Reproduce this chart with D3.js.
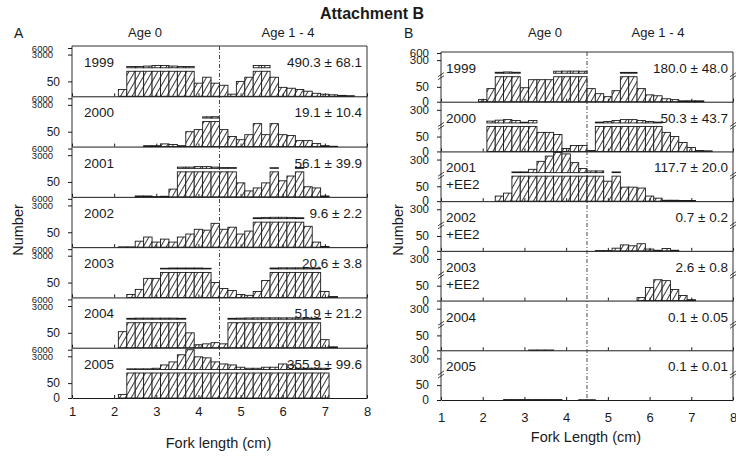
<!DOCTYPE html>
<html>
<head>
<meta charset="utf-8">
<script src="https://cdn.jsdelivr.net/npm/d3@7"></script>
<style>
  body { margin: 0; background: #fff; }
  svg { font-family: "Liberation Sans", Arial, sans-serif; }
</style>
</head>
<body>
<div id="chart"></div>
<script>
// histogram bins: left edges 1.9, 2.1, ... (0.2 cm wide)
const binStart = 1.9, binWidth = 0.2;
const xTicks = [1, 2, 3, 4, 5, 6, 7, 8];

// Panel A counts per bin
const a1999 = [0, 23, 180, 190, 230, 290, 290, 230, 190, 180, 44, 64, 44, 37, 7, 50, 64, 290, 290, 64, 30, 27, 23, 17, 10, 7, 5, 3, 2, 0];
const a2000 = [0, 0, 0, 0, 3, 3, 9, 7, 3, 50, 57, 180, 190, 57, 34, 23, 40, 77, 40, 77, 40, 37, 20, 20, 10, 3, 1, 0, 0, 0];
const a2001 = [0, 0, 0, 3, 3, 1, 2, 26, 180, 180, 230, 230, 180, 140, 140, 47, 20, 30, 47, 130, 54, 70, 150, 34, 30, 3, 0, 0, 0, 0];
const a2002 = [0, 1, 1, 20, 34, 17, 27, 17, 34, 44, 60, 57, 80, 60, 67, 44, 54, 150, 180, 190, 190, 180, 150, 70, 17, 2, 0, 0, 0, 0];
const a2003 = [0, 0, 10, 27, 64, 64, 130, 150, 150, 150, 150, 130, 50, 30, 23, 10, 7, 20, 57, 150, 165, 165, 165, 165, 150, 20, 3, 0, 0, 0];
const a2004 = [0, 54, 150, 165, 165, 165, 165, 165, 150, 50, 10, 13, 17, 13, 150, 165, 180, 190, 190, 190, 190, 190, 180, 165, 150, 27, 3, 0, 0, 0];
const a2005 = [0, 12, 130, 130, 130, 180, 620, 1250, 3600, 6000, 2800, 2440, 1250, 800, 620, 290, 180, 180, 290, 290, 800, 620, 180, 180, 180, 180, 0, 0, 0, 0];

// Panel B counts per bin
const b1999 = [7, 44, 92, 95, 92, 47, 74, 74, 74, 102, 103, 103, 102, 44, 27, 17, 37, 91, 91, 44, 23, 20, 10, 7, 3, 3, 3, 0, 0, 0];
const b2000 = [0, 100, 110, 116, 106, 90, 106, 64, 64, 57, 10, 20, 20, 3, 91, 96, 106, 116, 116, 106, 96, 91, 64, 50, 30, 13, 3, 2, 0, 0];
const b2001 = [0, 0, 17, 27, 90, 90, 116, 252, 420, 600, 520, 222, 125, 99, 99, 67, 90, 47, 47, 44, 17, 10, 3, 3, 2, 2, 0, 0, 0, 0];
const b2002 = [0, 0, 0, 0, 0, 0, 0, 0, 0, 0, 0, 0, 0, 0, 1, 1, 9, 20, 17, 24, 6, 2, 8, 2, 0, 0, 0, 0, 0, 0];
const b2003 = [0, 0, 0, 0, 0, 0, 0, 0, 0, 0, 0, 0, 0, 0, 0, 0, 0, 0, 0, 10, 44, 70, 67, 37, 17, 3, 0, 0, 0, 0];
const b2004 = [0, 0, 0, 0, 0, 0, 1, 1, 1, 0, 0, 0, 0, 0, 0, 0, 0, 0, 0, 0, 0, 0, 0, 0, 0, 0, 0, 0, 0, 0];
const b2005 = [0, 0, 0, 1.5, 1.5, 1.5, 1.5, 1.5, 1.5, 1.5, 0, 0, 1, 1, 0, 0, 0, 0, 0, 0, 0, 0, 0, 0, 0, 0, 0, 0, 0, 0];

// row labels
const aYears = [["1999"], ["2000"], ["2001"], ["2002"], ["2003"], ["2004"], ["2005"]];
const aMeans = ["490.3 \u00b1 68.1", "19.1 \u00b1 10.4", "56.1 \u00b1 39.9", "9.6 \u00b1 2.2", "20.6 \u00b1 3.8", "51.9 \u00b1 21.2", "355.9 \u00b1 99.6"];
const bYears = [["1999"], ["2000"], ["2001", "+EE2"], ["2002", "+EE2"], ["2003", "+EE2"], ["2004"], ["2005"]];
const bMeans = ["180.0 \u00b1 48.0", "50.3 \u00b1 43.7", "117.7 \u00b1 20.0", "0.7 \u00b1 0.2", "2.6 \u00b1 0.8", "0.1 \u00b1 0.05", "0.1 \u00b1 0.01"];

const breakAt = 84; // top of the lower (linear) section

const svg = d3.select("#chart").append("svg")
  .attr("width", 736)
  .attr("height", 456);

// diagonal hatch
const pat = svg.append("defs").append("pattern")
  .attr("id", "hatch")
  .attr("patternUnits", "userSpaceOnUse")
  .attr("width", 5)
  .attr("height", 5)
  .attr("patternTransform", "rotate(30)");
pat.append("rect").attr("width", 5).attr("height", 5).attr("fill", "#fff");
pat.append("line")
  .attr("x1", 2.5).attr("y1", 0).attr("x2", 2.5).attr("y2", 5)
  .attr("stroke", "#222").attr("stroke-width", 0.9);

const ink = "#1a1a1a";

function drawPanel(p) {
  const g = svg.append("g");
  const x = d3.scaleLinear().domain([1, 8]).range([p.x0, p.x1]);
  const nRows = p.counts.length;
  const rowH = (p.bottom - p.top) / nRows;

  p.counts.forEach((counts, r) => {
    const base = p.top + rowH * (r + 1);
    const top = base - rowH;
    const lower = d3.scaleLinear().domain([0, breakAt]).range([base, base - 25]).clamp(true);
    // upper section above the axis break
    const upper = p.upperScale().domain([breakAt, p.upperMax]).range([base - 28.5, top + p.upperGap]).clamp(true);
    const bins = counts
      .map((v, i) => ({ x0: binStart + i * binWidth, v: v }))
      .filter((d) => d.v > 0);

    const row = g.append("g").attr("class", "row");

    // lower section bars
    row.selectAll(".bar")
      .data(bins)
      .join("rect")
      .attr("class", "bar")
      .attr("x", (d) => x(d.x0))
      .attr("width", (d) => x(d.x0 + binWidth) - x(d.x0))
      .attr("y", (d) => lower(d.v))
      .attr("height", (d) => base - lower(d.v))
      .attr("fill", "url(#hatch)")
      .attr("stroke", ink)
      .attr("stroke-width", 0.9);

    // part of the bar above the axis break
    row.selectAll(".bar-up")
      .data(bins.filter((d) => d.v > breakAt))
      .join("rect")
      .attr("class", "bar-up")
      .attr("x", (d) => x(d.x0))
      .attr("width", (d) => x(d.x0 + binWidth) - x(d.x0))
      .attr("y", (d) => upper(d.v))
      .attr("height", (d) => upper(breakAt) - upper(d.v))
      .attr("fill", "url(#hatch)")
      .attr("stroke", ink)
      .attr("stroke-width", 0.9);

    // baseline with small inward ticks
    const isLast = r === nRows - 1;
    const xAxis = row.append("g")
      .attr("transform", "translate(0," + base + ")")
      .call(
        d3.axisBottom(x)
          .tickValues(xTicks)
          .tickSize(-3)
          .tickSizeOuter(0)
          .tickPadding(p.xPad)
          .tickFormat(isLast ? d3.format("d") : "")
      );
    xAxis.attr("font-size", 13).attr("font-family", null).attr("color", ink);

    // left ticks: lower section
    const lowTicks = p.lowerTicks.slice();
    if (isLast && p.zeroOnLast) lowTicks.unshift(0);
    const yl = row.append("g")
      .attr("transform", "translate(" + p.x0 + ",0)")
      .call(d3.axisLeft(lower).tickValues(lowTicks).tickSize(4).tickPadding(8));
    yl.select(".domain").remove();
    yl.attr("font-size", 12).attr("font-family", null).attr("color", ink);

    // left ticks: upper section
    const upTicks = r === 0 ? p.upperTicksFirst : p.upperTicks;
    const yu = row.append("g")
      .attr("transform", "translate(" + p.x0 + ",0)")
      .call(d3.axisLeft(upper).tickValues(upTicks).tickSize(4).tickPadding(p.upPad).tickFormat(d3.format("d")));
    yu.select(".domain").remove();
    yu.attr("font-size", p.upFont).attr("font-family", null).attr("color", ink);

    // break marks
    if (p.breakMarks) {
      const yb = base - 27;
      [p.x0, p.x1].forEach((bx) => {
        [0, 3].forEach((off) => {
          row.append("line")
            .attr("x1", bx - 3).attr("y1", yb + 2 + off)
            .attr("x2", bx + 3).attr("y2", yb - 2 + off)
            .attr("stroke", ink).attr("stroke-width", 0.8);
        });
      });
    }

    // year label
    const yt = row.append("text")
      .attr("x", p.yearX)
      .attr("y", top + 21)
      .attr("font-size", 13.5)
      .attr("fill", ink);
    p.years[r].forEach((line, k) => {
      yt.append("tspan").attr("x", p.yearX).attr("dy", k === 0 ? 0 : 17).text(line);
    });

    // mean label
    row.append("text")
      .attr("x", p.meanX)
      .attr("y", top + 21)
      .attr("text-anchor", "end")
      .attr("font-size", 13.5)
      .attr("fill", ink)
      .text(p.means[r]);
  });

  // frame
  g.append("line").attr("x1", p.x0).attr("x2", p.x1).attr("y1", p.top).attr("y2", p.top)
    .attr("stroke", ink).attr("stroke-width", 0.9);
  g.append("line").attr("x1", p.x0).attr("x2", p.x0).attr("y1", p.top).attr("y2", p.bottom)
    .attr("stroke", ink).attr("stroke-width", 0.9);
  g.append("line").attr("x1", p.x1).attr("x2", p.x1).attr("y1", p.top).attr("y2", p.bottom)
    .attr("stroke", ink).attr("stroke-width", 0.9);

  // age split line at 4.5 cm
  g.append("line")
    .attr("x1", x(4.5)).attr("x2", x(4.5))
    .attr("y1", p.top).attr("y2", p.bottom)
    .attr("stroke", "#333").attr("stroke-width", 0.9)
    .attr("stroke-dasharray", "4,2,1,2");

  // headings
  g.append("text").attr("x", p.letterX).attr("y", 38).attr("font-size", 14).attr("fill", ink).text(p.letter);
  g.append("text").attr("x", p.age0X).attr("y", 37).attr("text-anchor", "middle").attr("font-size", 13).attr("fill", ink).text("Age 0");
  g.append("text").attr("x", p.age1X).attr("y", 37).attr("text-anchor", "middle").attr("font-size", 13).attr("fill", ink).text("Age 1 - 4");

  // axis titles
  g.append("text")
    .attr("x", (p.x0 + p.x1) / 2 - 1)
    .attr("y", p.xTitleY)
    .attr("text-anchor", "middle")
    .attr("font-size", 14.5)
    .attr("fill", ink)
    .text(p.xTitle);
  g.append("text")
    .attr("transform", "translate(" + p.yTitleX + ",230) rotate(-90)")
    .attr("text-anchor", "middle")
    .attr("font-size", 14.5)
    .attr("fill", ink)
    .text("Number");
}

drawPanel({
  counts: [a1999, a2000, a2001, a2002, a2003, a2004, a2005],
  years: aYears, means: aMeans,
  x0: 72, x1: 367, top: 46, bottom: 398,
  upperScale: () => d3.scaleSqrt(), upperGap: 2,
  upperMax: 6000, upperTicks: [3000, 6000], upperTicksFirst: [3000, 6000],
  lowerTicks: [50], zeroOnLast: true,
  upFont: 9.5, upPad: 15, xPad: 9,
  breakMarks: false,
  yearX: 84, meanX: 362,
  letter: "A", letterX: 14, age0X: 145, age1X: 288,
  xTitle: "Fork length (cm)", xTitleY: 448, yTitleX: 23
});

drawPanel({
  counts: [b1999, b2000, b2001, b2002, b2003, b2004, b2005],
  years: bYears, means: bMeans,
  x0: 441, x1: 733, top: 52, bottom: 400,
  upperScale: () => d3.scaleLog(), upperGap: 1,
  upperMax: 600, upperTicks: [300], upperTicksFirst: [300, 600],
  lowerTicks: [0, 50], zeroOnLast: false,
  upFont: 11.5, upPad: 8, xPad: 13,
  breakMarks: true,
  yearX: 446, meanX: 728,
  letter: "B", letterX: 404, age0X: 545, age1X: 658,
  xTitle: "Fork Length (cm)", xTitleY: 442, yTitleX: 403
});

// title
svg.append("text")
  .attr("x", 372)
  .attr("y", 19)
  .attr("text-anchor", "middle")
  .attr("font-size", 16)
  .attr("font-weight", "bold")
  .attr("fill", ink)
  .text("Attachment B");
</script>
</body>
</html>
